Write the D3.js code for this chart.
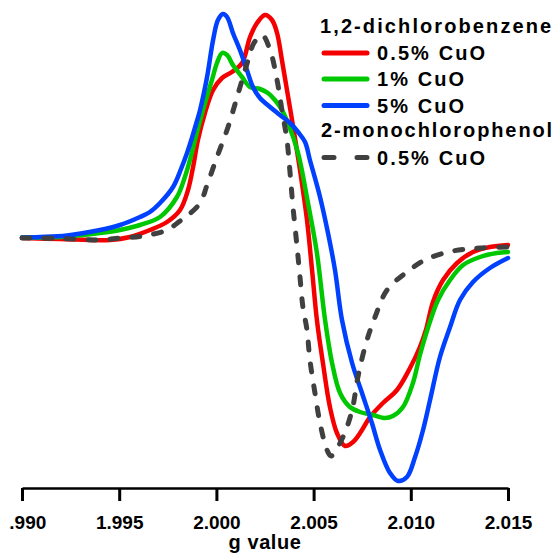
<!DOCTYPE html>
<html>
<head>
<meta charset="utf-8">
<script src="https://cdn.jsdelivr.net/npm/d3@7/dist/d3.min.js"></script>
<style>
  html, body { margin: 0; padding: 0; background: #fff; }
  svg { display: block; }
  text { font-family: "Liberation Sans", Arial, sans-serif; font-weight: bold; fill: #000; }
</style>
</head>
<body>
<svg id="chart" width="558" height="554"></svg>
<script>
// ---- data (g value, EPR intensity in arbitrary units) ----
const tickValues = [1.990, 1.995, 2.000, 2.005, 2.010, 2.015];
const tickLabels = ["1.990", "1.995", "2.000", "2.005", "2.010", "2.015"];
const xLabel = "g value";

const dcb05_g = [1.99000,1.99195,1.99453,1.99556,1.99658,1.99746,1.99813,1.99854,1.99880,1.99905,1.99941,1.99983,2.00029,2.00080,2.00132,2.00173,2.00209,2.00250,2.00286,2.00312,2.00337,2.00363,2.00389,2.00430,2.00466,2.00492,2.00517,2.00548,2.00584,2.00620,2.00662,2.00703,2.00749,2.00790,2.00857,2.00929,2.00996,2.01047,2.01078,2.01114,2.01166,2.01238,2.01320,2.01407,2.01500];
const dcb05_i = [0.00,-0.01,-0.02,0.01,0.08,0.16,0.28,0.48,0.71,0.98,1.25,1.48,1.60,1.66,1.75,2.01,2.15,2.23,2.18,2.05,1.78,1.48,1.18,0.68,0.18,-0.32,-0.82,-1.25,-1.69,-1.95,-2.08,-2.04,-1.92,-1.79,-1.65,-1.52,-1.30,-1.09,-0.92,-0.64,-0.42,-0.25,-0.14,-0.09,-0.07];

const dcb1_g = [1.99000,1.99195,1.99401,1.99504,1.99607,1.99710,1.99797,1.99838,1.99864,1.99890,1.99931,1.99977,2.00003,2.00029,2.00055,2.00085,2.00132,2.00173,2.00224,2.00265,2.00301,2.00337,2.00368,2.00420,2.00471,2.00517,2.00559,2.00595,2.00636,2.00687,2.00739,2.00806,2.00867,2.00908,2.00960,2.01011,2.01047,2.01088,2.01140,2.01202,2.01269,2.01356,2.01443,2.01500];
const dcb1_i = [0.005,0.01,0.05,0.08,0.13,0.21,0.41,0.61,0.78,0.98,1.28,1.58,1.75,1.85,1.83,1.73,1.61,1.51,1.49,1.45,1.38,1.28,1.15,0.85,0.35,-0.15,-0.82,-1.25,-1.55,-1.69,-1.74,-1.77,-1.80,-1.78,-1.69,-1.45,-1.17,-0.90,-0.62,-0.42,-0.27,-0.19,-0.15,-0.14];

const dcb5_g = [1.99000,1.99093,1.99231,1.99401,1.99504,1.99607,1.99658,1.99710,1.99777,1.99818,1.99849,1.99874,1.99900,1.99916,1.99952,1.99983,2.00008,2.00034,2.00055,2.00085,2.00121,2.00157,2.00188,2.00224,2.00276,2.00327,2.00379,2.00420,2.00456,2.00481,2.00533,2.00574,2.00610,2.00646,2.00698,2.00749,2.00800,2.00842,2.00893,2.00934,2.00980,2.01022,2.01063,2.01099,2.01150,2.01202,2.01253,2.01320,2.01407,2.01500];
const dcb5_i = [0.005,0.01,0.025,0.08,0.13,0.21,0.26,0.35,0.51,0.69,0.85,1.00,1.17,1.28,1.61,1.98,2.18,2.24,2.21,2.05,1.88,1.68,1.51,1.40,1.31,1.23,1.15,1.06,0.96,0.78,0.41,0.05,-0.32,-0.82,-1.25,-1.55,-1.85,-2.12,-2.35,-2.43,-2.39,-2.19,-1.92,-1.62,-1.19,-0.89,-0.62,-0.44,-0.30,-0.20];

const mcp05_g = [1.99000,1.99195,1.99401,1.99504,1.99622,1.99746,1.99813,1.99849,1.99916,1.99952,2.00003,2.00060,2.00111,2.00157,2.00193,2.00235,2.00276,2.00312,2.00337,2.00363,2.00379,2.00394,2.00415,2.00430,2.00445,2.00466,2.00481,2.00507,2.00533,2.00569,2.00590,2.00651,2.00698,2.00728,2.00770,2.00816,2.00878,2.00980,2.01083,2.01217,2.01356,2.01495];
const mcp05_i = [0.00,-0.005,-0.02,0.00,0.02,0.08,0.17,0.22,0.35,0.53,0.81,1.11,1.44,1.74,1.95,2.03,1.88,1.58,1.28,0.98,0.65,0.31,-0.09,-0.39,-0.69,-0.92,-1.22,-1.55,-1.85,-2.12,-2.18,-1.99,-1.72,-1.39,-1.05,-0.79,-0.52,-0.34,-0.21,-0.13,-0.10,-0.09];

const legendGroups = ["1,2-dichlorobenzene", "2-monochlorophenol"];
const seriesNames = ["0.5% CuO", "1% CuO", "5% CuO", "0.5% CuO"];
const seriesColors = ["#f50000", "#00c800", "#0040ff", "#404040"];

// ---- build ----
const series = [
  { g: dcb05_g, v: dcb05_i, name: seriesNames[0], color: seriesColors[0], dash: null },
  { g: dcb1_g,  v: dcb1_i,  name: seriesNames[1], color: seriesColors[1], dash: null },
  { g: dcb5_g,  v: dcb5_i,  name: seriesNames[2], color: seriesColors[2], dash: null },
  { g: mcp05_g, v: mcp05_i, name: seriesNames[3], color: seriesColors[3], dash: "8,14" }
];

const svg = d3.select("#chart");
const x = d3.scaleLinear().domain([1.990, 2.015]).range([22, 508]);
const y = d3.scaleLinear().domain([-2.5, 2.38]).range([488, 0]);

const line = d3.line()
  .x(d => x(d[0]))
  .y(d => y(d[1]))
  .curve(d3.curveCatmullRom.alpha(0.5));

series.forEach(s => {
  const pts = s.g.map((g, i) => [g, s.v[i]]);
  const p = svg.append("path")
    .datum(pts)
    .attr("d", line)
    .attr("fill", "none")
    .attr("stroke", s.color)
    .attr("stroke-width", s.dash ? 5 : 4.5)
    .attr("stroke-linejoin", "round")
    .attr("stroke-linecap", "round");
  if (s.dash) p.attr("stroke-dasharray", s.dash);
});

// ---- axis ----
svg.append("defs").append("clipPath").attr("id", "axclip")
  .append("rect").attr("x", 9).attr("y", -10).attr("width", 560).attr("height", 100);

const axis = d3.axisBottom(x)
  .tickValues(tickValues)
  .tickFormat((d, i) => tickLabels[i])
  .tickSizeInner(13)
  .tickSizeOuter(0)
  .tickPadding(0);

const gAx = svg.append("g")
  .attr("transform", "translate(0,488)")
  .attr("clip-path", "url(#axclip)")
  .call(axis);
gAx.select(".domain").attr("stroke", "#000").attr("stroke-width", 2.5);
gAx.selectAll(".tick line").attr("stroke", "#000").attr("stroke-width", 3);
gAx.selectAll(".tick text")
  .attr("y", 28)
  .attr("dy", "0.71em")
  .attr("font-size", 19)
  .attr("font-family", "'Liberation Sans', Arial, sans-serif")
  .attr("font-weight", "bold")
  .attr("fill", "#000");

svg.append("text")
  .attr("x", (x.range()[0] + x.range()[1]) / 2)
  .attr("y", 549)
  .attr("text-anchor", "middle")
  .attr("font-size", 20)
  .attr("letter-spacing", 0.6)
  .text(xLabel);

// ---- legend ----
const leg = svg.append("g").attr("font-size", 20).attr("letter-spacing", 2.1);
leg.append("text").attr("x", 320).attr("y", 33).text(legendGroups[0]);
leg.append("text").attr("x", 321).attr("y", 137).attr("letter-spacing", 1.9).text(legendGroups[1]);
const rowY = [53, 79, 105.5, 157.5];
series.forEach((s, i) => {
  const ln = leg.append("line")
    .attr("x1", 324).attr("x2", 367)
    .attr("y1", rowY[i]).attr("y2", rowY[i])
    .attr("stroke", s.color)
    .attr("stroke-width", 5)
    .attr("stroke-linecap", "round");
  if (s.dash) ln.attr("stroke-dasharray", "10,23");
  leg.append("text").attr("x", 377).attr("y", rowY[i] + 7).text(s.name);
});
</script>
</body>
</html>
